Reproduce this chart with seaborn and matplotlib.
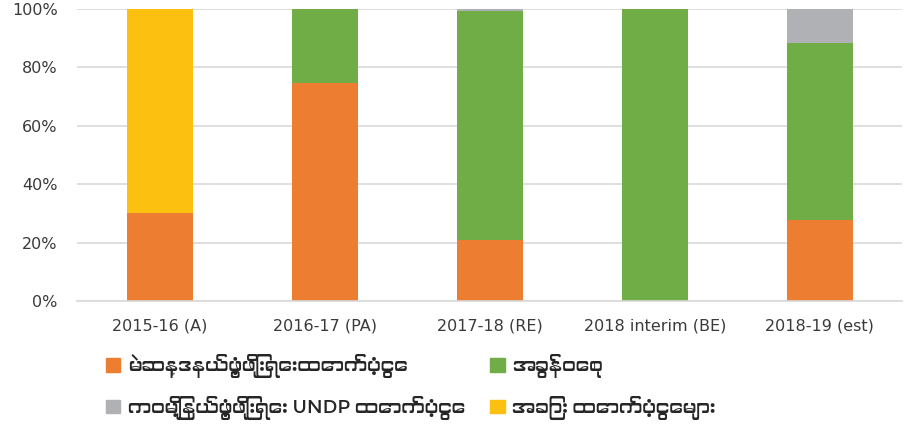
import matplotlib
matplotlib.use("Agg")
import matplotlib.pyplot as plt
from matplotlib import font_manager
from matplotlib.patches import Patch
import seaborn as sns
import pandas as pd
import numpy as np

# ======================================
# DATA
# ======================================
years = ["2015-16 (A)", "2016-17 (PA)", "2017-18 (RE)", "2018 interim (BE)", "2018-19 (est)"]
peace_fund = [30.0, 74.7, 20.9, 0.0, 27.7]     # orange
budget = [0.0, 25.3, 78.4, 100.0, 60.7]        # green
undp = [0.0, 0.0, 0.7, 0.0, 11.6]              # grey
other = [70.0, 0.0, 0.0, 0.0, 0.0]             # yellow

series_names = [
    "မဲဆန္ဒနယ်ဖွံ့ဖြိုးရေးထောက်ပံ့ငွေ",
    "အခွန်ဝေစု",
    "ကဝမြို့နယ်ဖွံ့ဖြိုးရေး UNDP ထောက်ပံ့ငွေ",
    "အခြား ထောက်ပံ့ငွေများ",
]
colors = ["#ED7D31", "#70AD47", "#B0B1B4", "#FCC010"]

# ======================================
# FONTS (use a Myanmar font if one happens to exist)
# ======================================
my_fonts = [f.name for f in font_manager.fontManager.ttflist
            if any(k in f.name for k in ("Myanmar", "Padauk", "Pyidaungsu", "Myanmar3"))]
legend_family = my_fonts[:1] + ["DejaVu Sans"]

sns.set_style("white")
plt.rcParams["font.family"] = ["DejaVu Sans"]

# ======================================
# PLOT
# ======================================
df = pd.DataFrame({"year": years, "s0": peace_fund, "s1": budget, "s2": undp, "s3": other})
layers = ["s0", "s1", "s2", "s3"]
cum = df[layers].cumsum(axis=1)

fig = plt.figure(figsize=(9.07, 4.28), dpi=100)
ax = fig.add_axes([0.085, 0.297, 0.91, 0.682])

# draw from the top layer down so lower segments sit in front
for i in reversed(range(len(layers))):
    sns.barplot(x=df["year"], y=cum[layers[i]], color=colors[i], width=0.4,
                saturation=1, ax=ax, linewidth=0, order=years)

ax.set_ylim(0, 100)
ax.set_xlim(-0.5, 4.5)
ax.set_yticks(np.arange(0, 101, 20))
ax.set_yticklabels([f"{v}%" for v in range(0, 101, 20)])
ax.yaxis.grid(True, color="#D9D9D9", linewidth=1.2)
ax.set_axisbelow(True)
for s in ["top", "right", "left"]:
    ax.spines[s].set_visible(False)
ax.spines["bottom"].set_color("#D9D9D9")
ax.spines["bottom"].set_linewidth(1.2)
ax.tick_params(axis="both", length=0, labelsize=11.5, colors="#3A3A3A")
ax.tick_params(axis="y", pad=14)
ax.tick_params(axis="x", pad=13)
ax.set_xlabel("")
ax.set_ylabel("")

handles = [Patch(color=colors[k], label=series_names[k]) for k in (0, 2, 1, 3)]
ax.legend(handles=handles, ncol=2, loc="upper left", bbox_to_anchor=(0.015, -0.125),
          frameon=False, handlelength=0.75, handleheight=0.75, handletextpad=0.4,
          columnspacing=1.35, labelspacing=0.95,
          prop={"family": legend_family, "size": 13.5})

fig.savefig("out.png", dpi=100)
